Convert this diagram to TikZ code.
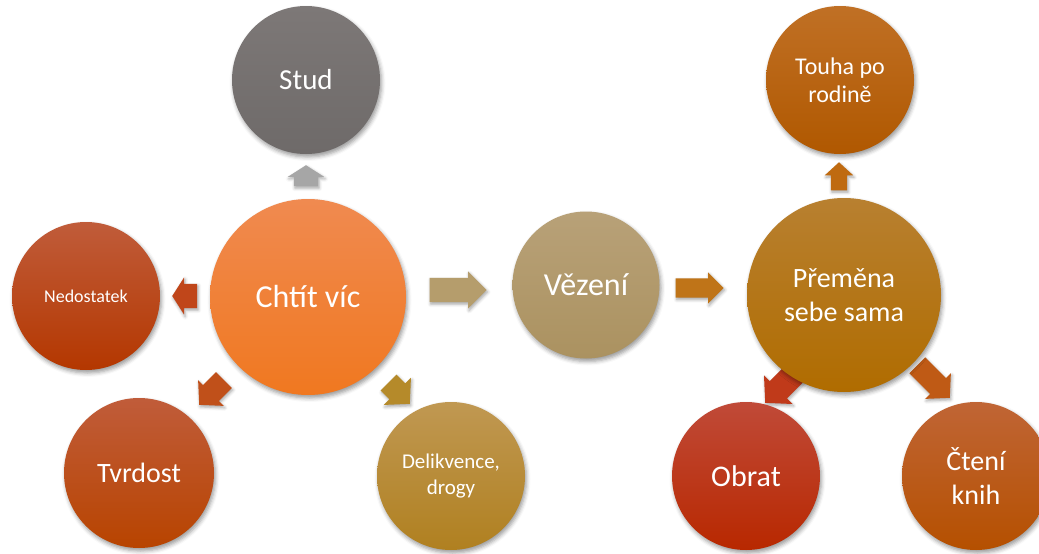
\documentclass[tikz,border=0pt]{standalone}
\usepackage{fontspec}
\setmainfont{Carlito}
\usetikzlibrary{shapes.arrows,shadows.blur}
\begin{document}
\begin{tikzpicture}[x=1pt,y=-1pt,
  bub/.style={circle, inner sep=0pt, text=white, align=center,
    blur shadow={shadow xshift=1.5pt, shadow yshift=-3pt, shadow opacity=40, shadow blur radius=4pt}},
  fs/.style 2 args={font=\fontsize{#1}{#2}\selectfont},
  blk/.style={single arrow, inner xsep=0pt, draw=none, single arrow tip angle=95, anchor=tip,
    blur shadow={shadow xshift=1pt, shadow yshift=-2pt, shadow opacity=35, shadow blur radius=3pt}}
]
\useasboundingbox (0,0) rectangle (1039,554);
% arrows (placed by their tips)
\node[blk, fill=gray!70, minimum height=21, inner ysep=12, single arrow head extend=6, single arrow tip angle=115, rotate=90] (aStud) at (306,165) {};
\node[blk, fill={rgb,255:red,192;green,70;blue,26}, minimum height=25, inner ysep=12, single arrow head extend=6.5, single arrow tip angle=115, rotate=180] (aNed) at (172,296) {};
\node[blk, fill={rgb,255:red,192;green,80;blue,26}, minimum height=35, inner ysep=11, single arrow head extend=7, rotate=225] (aTvr) at (199,405) {};
\node[blk, fill={rgb,255:red,181;green,138;blue,42}, minimum height=30, inner ysep=11, single arrow head extend=8, rotate=-45] (aDel) at (410,404) {};
\node[blk, fill={rgb,255:red,181;green,157;blue,108}, minimum height=57, inner ysep=12, single arrow head extend=6.5, single arrow tip angle=90] (aVez) at (487,290) {};
\node[blk, fill={rgb,255:red,191;green,116;blue,24}, minimum height=48, inner ysep=9.5, single arrow head extend=6, single arrow tip angle=90] (aPre) at (724,288) {};
\node[blk, fill={rgb,255:red,191;green,106;blue,16}, minimum height=28, inner ysep=8, single arrow head extend=6, rotate=90] (aTou) at (839,162) {};
\node[blk, fill={rgb,255:red,192;green,58;blue,26}, minimum height=42, inner ysep=12, single arrow head extend=8, rotate=225] (aObr) at (765,403) {};
\node[blk, fill={rgb,255:red,191;green,90;blue,21}, minimum height=46, inner ysep=11, single arrow head extend=7, rotate=-45] (aCte) at (950,398) {};
% circles
\node[bub, fs={29}{35}, minimum size=148, top color={rgb,255:red,125;green,120;blue,119}, bottom color={rgb,255:red,110;green,106;blue,105}] (stud) at (306,80) {Stud};
\node[bub, fs={32}{38}, minimum size=196, top color={rgb,255:red,240;green,138;blue,80}, bottom color={rgb,255:red,240;green,120;blue,32}] (chtit) at (308,297) {Chtít víc};
\node[bub, fs={18}{22}, minimum size=148, top color={rgb,255:red,192;green,92;blue,58}, bottom color={rgb,255:red,180;green,55;blue,0}] (ned) at (86,296) {Nedostatek};
\node[bub, fs={28}{34}, minimum size=150, top color={rgb,255:red,192;green,92;blue,58}, bottom color={rgb,255:red,184;green,68;blue,0}] (tvr) at (139,473) {Tvrdost};
\node[bub, fs={21}{26}, minimum size=148, top color={rgb,255:red,192;green,152;blue,82}, bottom color={rgb,255:red,176;green,128;blue,32}] (del) at (451,476) {Delikvence,\\drogy};
\node[bub, fs={32}{38}, minimum size=147, top color={rgb,255:red,184;green,161;blue,120}, bottom color={rgb,255:red,171;green,146;blue,96}] (vez) at (586,285) {Vězení};
\node[bub, fs={28}{34}, minimum size=194, top color={rgb,255:red,184;green,128;blue,48}, bottom color={rgb,255:red,176;green,108;blue,0}] (pre) at (844,295) {Přeměna\\sebe sama};
\node[bub, fs={24}{28}, minimum size=148, top color={rgb,255:red,192;green,112;blue,37}, bottom color={rgb,255:red,176;green,88;blue,0}] (tou) at (840,80) {Touha po\\rodině};
\node[bub, fs={30}{36}, minimum size=148, top color={rgb,255:red,192;green,74;blue,56}, bottom color={rgb,255:red,184;green,40;blue,0}] (obr) at (746,476) {Obrat};
\node[bub, fs={28}{34}, minimum size=148, top color={rgb,255:red,192;green,101;blue,53}, bottom color={rgb,255:red,181;green,80;blue,0}] (cte) at (976,476) {Čtení\\knih};
\end{tikzpicture}
\end{document}
